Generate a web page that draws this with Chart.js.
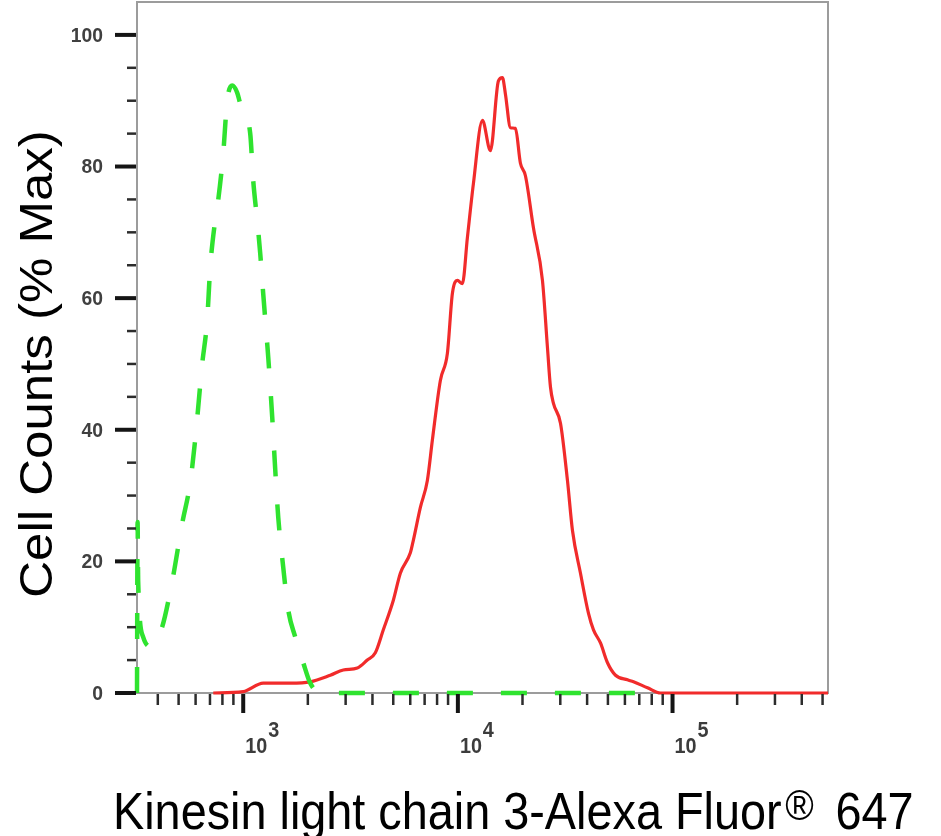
<!DOCTYPE html>
<html>
<head>
<meta charset="utf-8">
<title>Kinesin light chain 3 - flow cytometry</title>
<script src="https://cdn.jsdelivr.net/npm/chart.js@4.4.0/dist/chart.umd.min.js"></script>
<style>
  html, body { margin: 0; padding: 0; background: #fff; }
  canvas { display: block; }
</style>
</head>
<body>
<canvas id="myChart" width="941" height="836"></canvas>
<script>
// Control (green, dashed) histogram: fluorescence intensity / % of max
const controlX = [320, 322, 324, 342, 377, 419, 467, 520, 566, 597, 644, 679, 702, 740, 764, 807, 842, 889, 938, 968,
                  1078, 1113, 1162, 1200, 1239, 1294, 1308, 1365, 1410, 1456, 1536, 1621, 1747, 1904, 2053, 2290, 71000];
const controlY = [0, 26, 17, 8.5, 7, 10, 17, 25.8, 31.9, 38.4, 50, 56.6, 64.7, 71.8, 74.8, 82, 90, 92.3, 91.2, 89.6,
                  85, 77.9, 71.8, 66.8, 60.7, 53, 51, 41.9, 33.9, 26.7, 19.1, 12.6, 8.5, 4.6, 1.5, 0, 0];

// Kinesin light chain 3 stained sample (red)
const sampleX = [725, 1000, 1239, 1656, 2053, 2545, 2925, 3401, 3785, 4125, 4495, 5005, 5395, 6006, 6202, 6688, 7209, 7605,
                 8288, 8935, 9428, 9947, 10495, 11075, 11813, 13013, 14178, 15449, 16130, 16656, 17572, 18540, 19561,
                 20638, 22490, 24774, 26140, 26997, 27881, 30062, 32394, 34185, 37254, 40599, 42831, 46166, 49774,
                 54252, 61688, 65794, 76435, 87900, 200000, 530000];
const sampleY = [0, 0.2, 1.5, 1.5, 1.7, 2.7, 3.5, 3.8, 5, 6.1, 9.6, 14.1, 18.2, 21.3, 23.2, 28.2, 32.3, 38.4,
                 47.5, 51.6, 60.7, 62.7, 62.2, 69.2, 77.4, 87, 82.4, 93, 93.5, 91, 85.9, 85.8, 80.5,
                 78.6, 70.7, 62.7, 52.5, 46.5, 44, 41, 32.3, 24.7, 18.2, 12.1, 9.6, 7.6, 4.6,
                 2.7, 2, 1.7, 0.8, 0, 0, 0];

// Axis ticks
const xDecades = [100, 1000, 10000, 100000];
const xLabelDecades = [1000, 10000, 100000];
const xLabelExponents = ['3', '4', '5'];
const yTickStep = 5;
const yLabels = [0, 20, 40, 60, 80, 100];

const xTitle = 'Kinesin light chain 3-Alexa Fluor';
const xTitleMark = '\u00AE';
const xTitleEnd = '647';
const yTitle = 'Cell Counts (% Max)';

const FONT = '"Liberation Sans", Arial, Helvetica, sans-serif';

// frame, tick marks, tick labels and titles drawn around the chart area
const flowAxes = {
  id: 'flowAxes',
  beforeDatasetsDraw(chart) {
    const { ctx, chartArea: a } = chart;
    ctx.save();
    ctx.strokeStyle = '#9c9c9c';
    ctx.lineWidth = 2;
    ctx.strokeRect(a.left, a.top, a.right - a.left, a.bottom - a.top);
    ctx.restore();
  },
  afterDraw(chart) {
    const { ctx, chartArea: a } = chart;
    const xs = chart.scales.x, ys = chart.scales.y;
    ctx.save();

    // x ticks (log decades)
    xDecades.forEach(d => {
      for (let m = 1; m < 10; m++) {
        const v = d * m;
        if (v < xs.min || v > xs.max) continue;
        const px = xs.getPixelForValue(v);
        const major = m === 1;
        ctx.strokeStyle = major ? '#151515' : '#2c2c2c';
        ctx.lineWidth = major ? 4 : 2.5;
        ctx.beginPath();
        ctx.moveTo(px, a.bottom + 1);
        ctx.lineTo(px, a.bottom + (major ? 20 : 12));
        ctx.stroke();
      }
    });

    // x labels 10^n
    ctx.fillStyle = '#3c3c3c';
    ctx.textAlign = 'left';
    ctx.textBaseline = 'alphabetic';
    ctx.font = 'bold 22px ' + FONT;
    xLabelDecades.forEach((d, i) => {
      const px = xs.getPixelForValue(d);
      ctx.save();
      ctx.translate(px + 2, 753);
      ctx.scale(0.9, 1);
      ctx.fillText('10', 0, 0);
      const w = ctx.measureText('10').width;
      ctx.fillText(xLabelExponents[i], w + 1, -16);
      ctx.restore();
    });

    // y ticks
    for (let v = 0; v <= 100; v += yTickStep) {
      const py = ys.getPixelForValue(v);
      const major = v % 20 === 0;
      ctx.strokeStyle = major ? '#151515' : '#2c2c2c';
      ctx.lineWidth = major ? 4 : 2.5;
      ctx.beginPath();
      ctx.moveTo(a.left - 1, py);
      ctx.lineTo(a.left - (major ? 22 : 10), py);
      ctx.stroke();
    }
    ctx.fillStyle = '#404040';
    ctx.textAlign = 'right';
    ctx.textBaseline = 'middle';
    ctx.font = 'bold 21px ' + FONT;
    yLabels.forEach(v => {
      ctx.save();
      ctx.translate(103, ys.getPixelForValue(v) + 1);
      ctx.scale(0.92, 1);
      ctx.fillText(String(v), 0, 0);
      ctx.restore();
    });

    // x title with superscript mark
    ctx.fillStyle = '#000';
    ctx.textAlign = 'left';
    ctx.textBaseline = 'alphabetic';
    ctx.save();
    ctx.translate(113, 829);
    ctx.scale(0.9, 1);
    ctx.font = '52px ' + FONT;
    ctx.fillText(xTitle, 0, 0);
    const w1 = ctx.measureText(xTitle).width;
    ctx.font = '43px ' + FONT;
    ctx.fillText(xTitleMark, w1 + 4, -9);
    ctx.font = '52px ' + FONT;
    ctx.fillText(xTitleEnd, w1 + 60, 0);
    ctx.restore();

    // y title
    ctx.save();
    ctx.translate(52, 364);
    ctx.scale(0.9, 1);
    ctx.rotate(-Math.PI / 2);
    ctx.textAlign = 'center';
    ctx.font = '51px ' + FONT;
    ctx.fillText(yTitle, 0, 0);
    ctx.restore();

    ctx.restore();
  }
};

const cnv = document.getElementById('myChart');

new Chart(cnv, {
  type: 'line',
  data: {
    datasets: [
      {
        label: 'Control',
        data: controlX.map((x, i) => ({ x: x, y: controlY[i] })),
        borderColor: '#2fe32f',
        borderWidth: 4.5,
        borderDash: [26, 28],
        pointRadius: 0,
        fill: false,
        cubicInterpolationMode: 'monotone',
        clip: false
      },
      {
        label: 'Kinesin light chain 3',
        data: sampleX.map((x, i) => ({ x: x, y: sampleY[i] })),
        borderColor: '#f12b2b',
        borderWidth: 3.2,
        pointRadius: 0,
        fill: false,
        cubicInterpolationMode: 'monotone',
        clip: false
      }
    ]
  },
  options: {
    responsive: false,
    animation: false,
    devicePixelRatio: 1,
    layout: { padding: { left: 0, top: 2, right: 113, bottom: 0 }, autoPadding: false },
    plugins: { legend: { display: false }, tooltip: { enabled: false } },
    scales: {
      x: {
        type: 'logarithmic',
        min: 320,
        max: 530000,
        grid: { display: false },
        border: { display: false },
        ticks: { display: false },
        afterFit: s => { s.height = 143; }
      },
      y: {
        min: 0,
        max: 105,
        grid: { display: false },
        border: { display: false },
        ticks: { display: false, stepSize: yTickStep },
        afterFit: s => { s.width = 137; }
      }
    }
  },
  plugins: [flowAxes]
});
</script>
</body>
</html>
